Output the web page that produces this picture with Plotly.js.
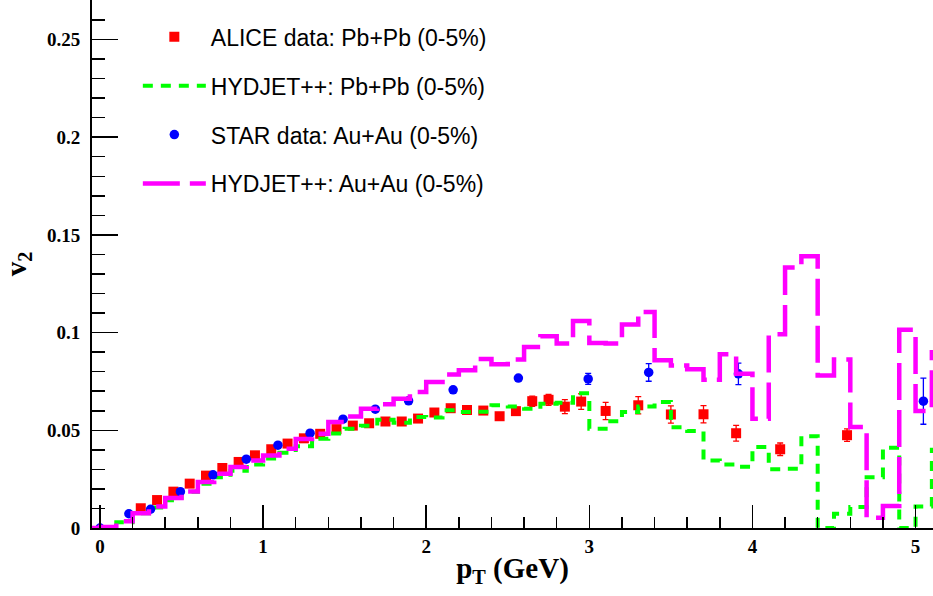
<!DOCTYPE html>
<html>
<head>
<meta charset="utf-8">
<script src="https://cdn.plot.ly/plotly-3.0.1.min.js"></script>
<style>html,body{margin:0;padding:0;background:#fff;}#chart{width:933px;height:596px;}</style>
</head>
<body>
<div id="chart"></div>
<script>
// Histogram bin edges (pT, GeV) for the HYDJET++ curves
const binEdges = [-0.1,0.0,0.1,0.2,0.3,0.4,0.5,0.6,0.7,0.8,0.9,1.0,1.1,1.2,1.3,1.4,1.5,1.6,1.7,1.8,1.9,2.0,2.1,2.2,2.3,2.4,2.5,2.6,2.7,2.8,2.9,3.0,3.1,3.2,3.3,3.4,3.5,3.6,3.7,3.8,3.9,4.0,4.1,4.2,4.3,4.4,4.5,4.6,4.7,4.8,4.9,5.0,5.1,5.2];

// HYDJET++ Pb+Pb (0-5%) bin contents
const hydjetPbPb = [0,0.0003,0.003,0.0075,0.0105,0.0142,0.0185,0.0226,0.026,0.0293,0.0325,0.0356,0.0385,0.0418,0.0457,0.0484,0.0508,0.0523,0.0554,0.0538,0.0568,0.0565,0.0602,0.0593,0.0595,0.0628,0.0622,0.061,0.0636,0.0641,0.0689,0.0508,0.0546,0.0593,0.0622,0.0645,0.0515,0.0496,0.0346,0.0325,0.0313,0.0414,0.0301,0.0303,0.047,0,0.0073,0.0107,0.026,0.0411,0,0.011,0.04];

// HYDJET++ Au+Au (0-5%) bin contents
const hydjetAuAu = [0,0.0005,0.0035,0.0076,0.011,0.0153,0.0187,0.0235,0.0278,0.0312,0.0345,0.0371,0.0405,0.0455,0.0482,0.0542,0.0571,0.061,0.0633,0.0662,0.0696,0.0747,0.0786,0.0807,0.0865,0.0838,0.0862,0.0926,0.0981,0.0944,0.1059,0.0947,0.0944,0.1041,0.1106,0.0858,0.0832,0.0812,0.0759,0.0889,0.079,0.0559,0.0991,0.1333,0.1391,0.0781,0.0862,0.0517,0.0052,0.0112,0.1015,0.0599,0.09];

// ALICE data: Pb+Pb (0-5%)
const alicePt = [0.25,0.35,0.45,0.55,0.65,0.75,0.85,0.95,1.05,1.15,1.25,1.35,1.45,1.55,1.65,1.75,1.85,1.95,2.05,2.15,2.25,2.35,2.45,2.55,2.65,2.75,2.85,2.95,3.1,3.3,3.5,3.7,3.9,4.17,4.58];
const aliceV2 = [0.0101,0.0143,0.0186,0.0227,0.0268,0.0307,0.0338,0.0372,0.0403,0.0432,0.0459,0.0482,0.0506,0.0524,0.0536,0.0545,0.0545,0.0560,0.0591,0.0613,0.0604,0.0601,0.0572,0.0598,0.0649,0.0656,0.0621,0.0647,0.0599,0.0628,0.0581,0.0582,0.0485,0.0403,0.0475];
const aliceErr = [0.0008,0.0008,0.0008,0.0008,0.0008,0.0008,0.0008,0.0008,0.0008,0.0008,0.0008,0.0008,0.0008,0.0008,0.0008,0.0008,0.0012,0.0012,0.0012,0.0015,0.0015,0.0015,0.0015,0.0018,0.0026,0.0028,0.0036,0.004,0.0044,0.0044,0.0044,0.0044,0.004,0.0032,0.0032];

// STAR data: Au+Au (0-5%)
const starPt = [0.0,0.177,0.31,0.493,0.693,0.897,1.091,1.288,1.49,1.688,1.892,2.165,2.565,2.993,3.364,3.914,5.048];
const starV2 = [0.0,0.0073,0.0096,0.0186,0.0272,0.0352,0.0424,0.0485,0.0557,0.0608,0.0651,0.0707,0.0767,0.0763,0.0796,0.0789,0.0649];
const starErr = [0.0003,0.0005,0.0005,0.0005,0.0005,0.0005,0.0006,0.0006,0.0006,0.0007,0.0007,0.0008,0.0009,0.0028,0.0045,0.0055,0.0118];

// Legend labels
const labels = ["ALICE data: Pb+Pb (0-5%)","HYDJET++: Pb+Pb (0-5%)","STAR data: Au+Au (0-5%)","HYDJET++: Au+Au (0-5%)"];

const stepY = v => v.concat([v[v.length-1]]);

const traces = [
  {x: alicePt, y: aliceV2, type:'scatter', mode:'markers', name: labels[0], legendgroup:'a',
   marker:{symbol:'square', size:10, color:'#ff0000'},
   error_y:{type:'data', array: aliceErr, visible:true, color:'#ff0000', thickness:1.3, width:3}},
  {x: binEdges, y: stepY(hydjetPbPb), type:'scatter', mode:'lines', name: labels[1], legendgroup:'b',
   line:{shape:'hv', color:'#00ff00', width:4, dash:'10px,8px'}},
  {x: starPt, y: starV2, type:'scatter', mode:'markers', name: labels[2], legendgroup:'c',
   marker:{symbol:'circle', size:9.5, color:'#0000ff'},
   error_y:{type:'data', array: starErr, visible:true, color:'#0000ff', thickness:1.3, width:3}},
  {x: binEdges, y: stepY(hydjetAuAu), type:'scatter', mode:'lines', name: labels[3], legendgroup:'d',
   line:{shape:'hv', color:'#ff00ff', width:4.5, dash:'37px,10px'}}
];

const tickFont = {family:'"Liberation Serif", "Times New Roman", serif', size:19, color:'#000', weight:'bold'};
const titleFont = {family:'"Liberation Serif", "Times New Roman", serif', size:29, color:'#000', weight:'bold'};

const layout = {
  width:933, height:596,
  margin:{l:92, r:0, t:0, b:68, pad:0},
  paper_bgcolor:'#fff', plot_bgcolor:'#fff',
  showlegend:true,
  legend:{x:0.0545, y:0.971, xanchor:'left', yanchor:'top', bgcolor:'rgba(0,0,0,0)',
          font:{family:'"Liberation Sans", Arial, sans-serif', size:23, color:'#000'},
          itemwidth:63, tracegroupgap:16, traceorder:'grouped'},
  xaxis:{range:[-0.049, 5.107], showline:true, linecolor:'#000', linewidth:2, mirror:false,
         showgrid:false, zeroline:false, ticks:'inside', ticklen:23, tickwidth:1.5, tickcolor:'#000',
         tick0:0, dtick:1, tickfont:tickFont, ticklabelstandoff:0,
         minor:{ticks:'inside', ticklen:11, tickwidth:1.5, tickcolor:'#000', dtick:0.2, tick0:0, showgrid:false},
         title:{text:'p<sub>T</sub> (GeV)', font:titleFont, standoff:2}},
  yaxis:{range:[0, 0.2702], showline:true, linecolor:'#000', linewidth:2, mirror:false,
         showgrid:false, zeroline:false, ticks:'inside', ticklen:26, tickwidth:1.5, tickcolor:'#000',
         tick0:0, dtick:0.05, tickfont:tickFont, ticklabelstandoff:6,
         minor:{ticks:'inside', ticklen:13, tickwidth:1.5, tickcolor:'#000', dtick:0.01, tick0:0, showgrid:false},
         title:{text:'v<sub>2</sub>', font:titleFont, standoff:14}}
};

Plotly.newPlot('chart', traces, layout, {staticPlot:true, displayModeBar:false});
</script>
</body>
</html>
